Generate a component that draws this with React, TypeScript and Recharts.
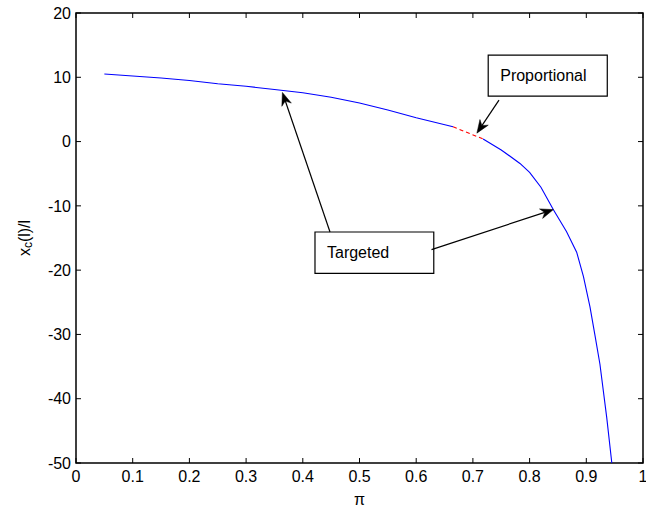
import React from 'react';
import { LineChart, Line, XAxis, YAxis, ReferenceArea, ReferenceLine } from 'recharts';

// Targeted (blue) curve, first part
const targetedA = [
  { x: 0.05, y: 10.5 },
  { x: 0.1, y: 10.2 },
  { x: 0.15, y: 9.9 },
  { x: 0.2, y: 9.5 },
  { x: 0.25, y: 9.0 },
  { x: 0.3, y: 8.6 },
  { x: 0.35, y: 8.1 },
  { x: 0.4, y: 7.6 },
  { x: 0.45, y: 6.9 },
  { x: 0.5, y: 6.0 },
  { x: 0.55, y: 4.9 },
  { x: 0.6, y: 3.7 },
  { x: 0.665, y: 2.3 },
];
// Proportional (red dashed) segment
const proportional = [
  { x: 0.665, y: 2.3 },
  { x: 0.69, y: 1.4 },
  { x: 0.718, y: 0.4 },
];
// Targeted (blue) curve, second part
const targetedB = [
  { x: 0.718, y: 0.4 },
  { x: 0.75, y: -1.3 },
  { x: 0.783, y: -3.4 },
  { x: 0.8, y: -4.8 },
  { x: 0.82, y: -7.1 },
  { x: 0.842, y: -10.6 },
  { x: 0.865, y: -14 },
  { x: 0.883, y: -17.2 },
  { x: 0.895, y: -21 },
  { x: 0.9065, y: -25.7 },
  { x: 0.915, y: -30 },
  { x: 0.924, y: -34.6 },
  { x: 0.936, y: -42.9 },
  { x: 0.945, y: -50 },
];

const xTicks = [0, 0.1, 0.2, 0.3, 0.4, 0.5, 0.6, 0.7, 0.8, 0.9, 1];
const xTickLabels = ['0', '0.1', '0.2', '0.3', '0.4', '0.5', '0.6', '0.7', '0.8', '0.9', '1'];
const yTicks = [-50, -40, -30, -20, -10, 0, 10, 20];
const xDomain = [0, 1];
const yDomain = [-50, 20];

// Annotations (data coordinates)
const propBox = { x1: 0.727, x2: 0.937, y1: 7.07, y2: 13.46, text: 'Proportional' };
const targBox = { x1: 0.4215, x2: 0.631, y1: -20.5, y2: -14.07, text: 'Targeted' };
const arrows = [
  [{ x: 0.746, y: 6.45 }, { x: 0.707, y: 1.31 }],
  [{ x: 0.448, y: -14.07 }, { x: 0.364, y: 7.65 }],
  [{ x: 0.627, y: -16.8 }, { x: 0.842, y: -10.58 }],
];

const FONT = '"Liberation Sans", Arial, Helvetica, sans-serif';
const FS = 16;
const TL = 5; // inward tick length

const ok = (...v: any[]) => v.every((n) => typeof n === 'number' && !isNaN(n));

const ArrowShape = (props: any) => {
  const { x1, y1, x2, y2 } = props;
  if (!ok(x1, y1, x2, y2)) return null;
  const dx = x2 - x1;
  const dy = y2 - y1;
  const len = Math.sqrt(dx * dx + dy * dy);
  const ux = dx / len;
  const uy = dy / len;
  const px = -uy;
  const py = ux;
  const L = 13;
  const W = 5;
  const bx = x2 - ux * L;
  const by = y2 - uy * L;
  const nx = x2 - ux * L * 0.7;
  const ny = y2 - uy * L * 0.7;
  const pts = `${x2},${y2} ${bx + px * W},${by + py * W} ${nx},${ny} ${bx - px * W},${by - py * W}`;
  return (
    <g>
      <line x1={x1} y1={y1} x2={nx} y2={ny} stroke="#000" strokeWidth={1.2} />
      <polygon points={pts} fill="#000" stroke="#000" strokeWidth={0.5} />
    </g>
  );
};

// Vertical segment -> only short inward ticks at top and bottom
const XTickShape = (props: any) => {
  const { x1, y1, x2, y2 } = props;
  if (!ok(x1, y1, x2, y2)) return null;
  const top = Math.min(y1, y2);
  const bot = Math.max(y1, y2);
  return (
    <g>
      <line x1={x1} x2={x1} y1={bot} y2={bot - TL} stroke="#000" strokeWidth={1} />
      <line x1={x1} x2={x1} y1={top} y2={top + TL} stroke="#000" strokeWidth={1} />
    </g>
  );
};

// Horizontal segment -> only short inward ticks at left and right
const YTickShape = (props: any) => {
  const { x1, y1, x2, y2 } = props;
  if (!ok(x1, y1, x2, y2)) return null;
  const l = Math.min(x1, x2);
  const r = Math.max(x1, x2);
  return (
    <g>
      <line x1={l} x2={l + TL} y1={y1} y2={y1} stroke="#000" strokeWidth={1} />
      <line x1={r} x2={r - TL} y1={y1} y2={y1} stroke="#000" strokeWidth={1} />
    </g>
  );
};

const YLabel = (props: any) => {
  const vb = props.viewBox || {};
  const cy = (vb.y ?? 0) + (vb.height ?? 0) / 2;
  const cx = 24;
  return (
    <text
      x={cx}
      y={cy}
      transform={`rotate(-90 ${cx} ${cy})`}
      textAnchor="middle"
      dominantBaseline="central"
      fontFamily={FONT}
      fontSize={FS}
      fill="#000"
    >
      <tspan>x</tspan>
      <tspan fontSize={12} dy={4}>c</tspan>
      <tspan dy={-4}>(l)/l</tspan>
    </text>
  );
};

export default function App() {
  return (
    <div style={{ position: 'fixed', left: 0, top: 0, width: 646, height: 518, background: '#fff' }}>
      <LineChart
        width={646}
        height={518}
        margin={{ top: 13, right: 3, bottom: 0, left: 0 }}
        style={{ fontFamily: FONT }}
      >
        <XAxis
          type="number"
          dataKey="x"
          domain={xDomain}
          ticks={xTicks}
          interval={0}
          allowDataOverflow
          height={55}
          tickSize={0}
          tickMargin={8}
          axisLine={false}
          tickLine={false}
          tickFormatter={(v: number) => xTickLabels[xTicks.indexOf(v)] ?? String(v)}
          tick={{ fill: '#000', fontSize: FS, fontFamily: FONT }}
          label={{ value: 'π', position: 'insideBottom', offset: 13, fill: '#000', fontSize: FS, fontFamily: FONT }}
        />
        <YAxis
          type="number"
          domain={yDomain}
          ticks={yTicks}
          interval={0}
          allowDataOverflow
          width={76}
          tickSize={0}
          tickMargin={5}
          axisLine={false}
          tickLine={false}
          tick={{ fill: '#000', fontSize: FS, fontFamily: FONT }}
          label={<YLabel />}
        />
        <ReferenceArea
          x1={xDomain[0]}
          x2={xDomain[1]}
          y1={yDomain[0]}
          y2={yDomain[1]}
          fill="none"
          fillOpacity={0}
          stroke="#000"
          strokeWidth={1.5}
        />
        {xTicks.map((t) => (
          <ReferenceLine
            key={'xt' + t}
            segment={[{ x: t, y: yDomain[0] }, { x: t, y: yDomain[1] }]}
            shape={XTickShape}
          />
        ))}
        {yTicks.map((t) => (
          <ReferenceLine
            key={'yt' + t}
            segment={[{ x: xDomain[0], y: t }, { x: xDomain[1], y: t }]}
            shape={YTickShape}
          />
        ))}
        <Line
          data={targetedA}
          dataKey="y"
          type="linear"
          stroke="#0000ff"
          strokeWidth={1.1}
          dot={false}
          isAnimationActive={false}
        />
        <Line
          data={proportional}
          dataKey="y"
          type="linear"
          stroke="#ff0000"
          strokeWidth={1.1}
          strokeDasharray="4 3"
          dot={false}
          isAnimationActive={false}
        />
        <Line
          data={targetedB}
          dataKey="y"
          type="linear"
          stroke="#0000ff"
          strokeWidth={1.1}
          dot={false}
          isAnimationActive={false}
        />
        {[propBox, targBox].map((b) => (
          <ReferenceArea
            key={b.text}
            x1={b.x1}
            x2={b.x2}
            y1={b.y1}
            y2={b.y2}
            fill="#fff"
            fillOpacity={1}
            stroke="#000"
            strokeWidth={1.2}
            label={{ value: b.text, position: 'insideLeft', offset: 12, fill: '#000', fontSize: FS, fontFamily: FONT }}
          />
        ))}
        {arrows.map((seg, i) => (
          <ReferenceLine key={i} segment={seg} shape={ArrowShape} />
        ))}
      </LineChart>
    </div>
  );
}
